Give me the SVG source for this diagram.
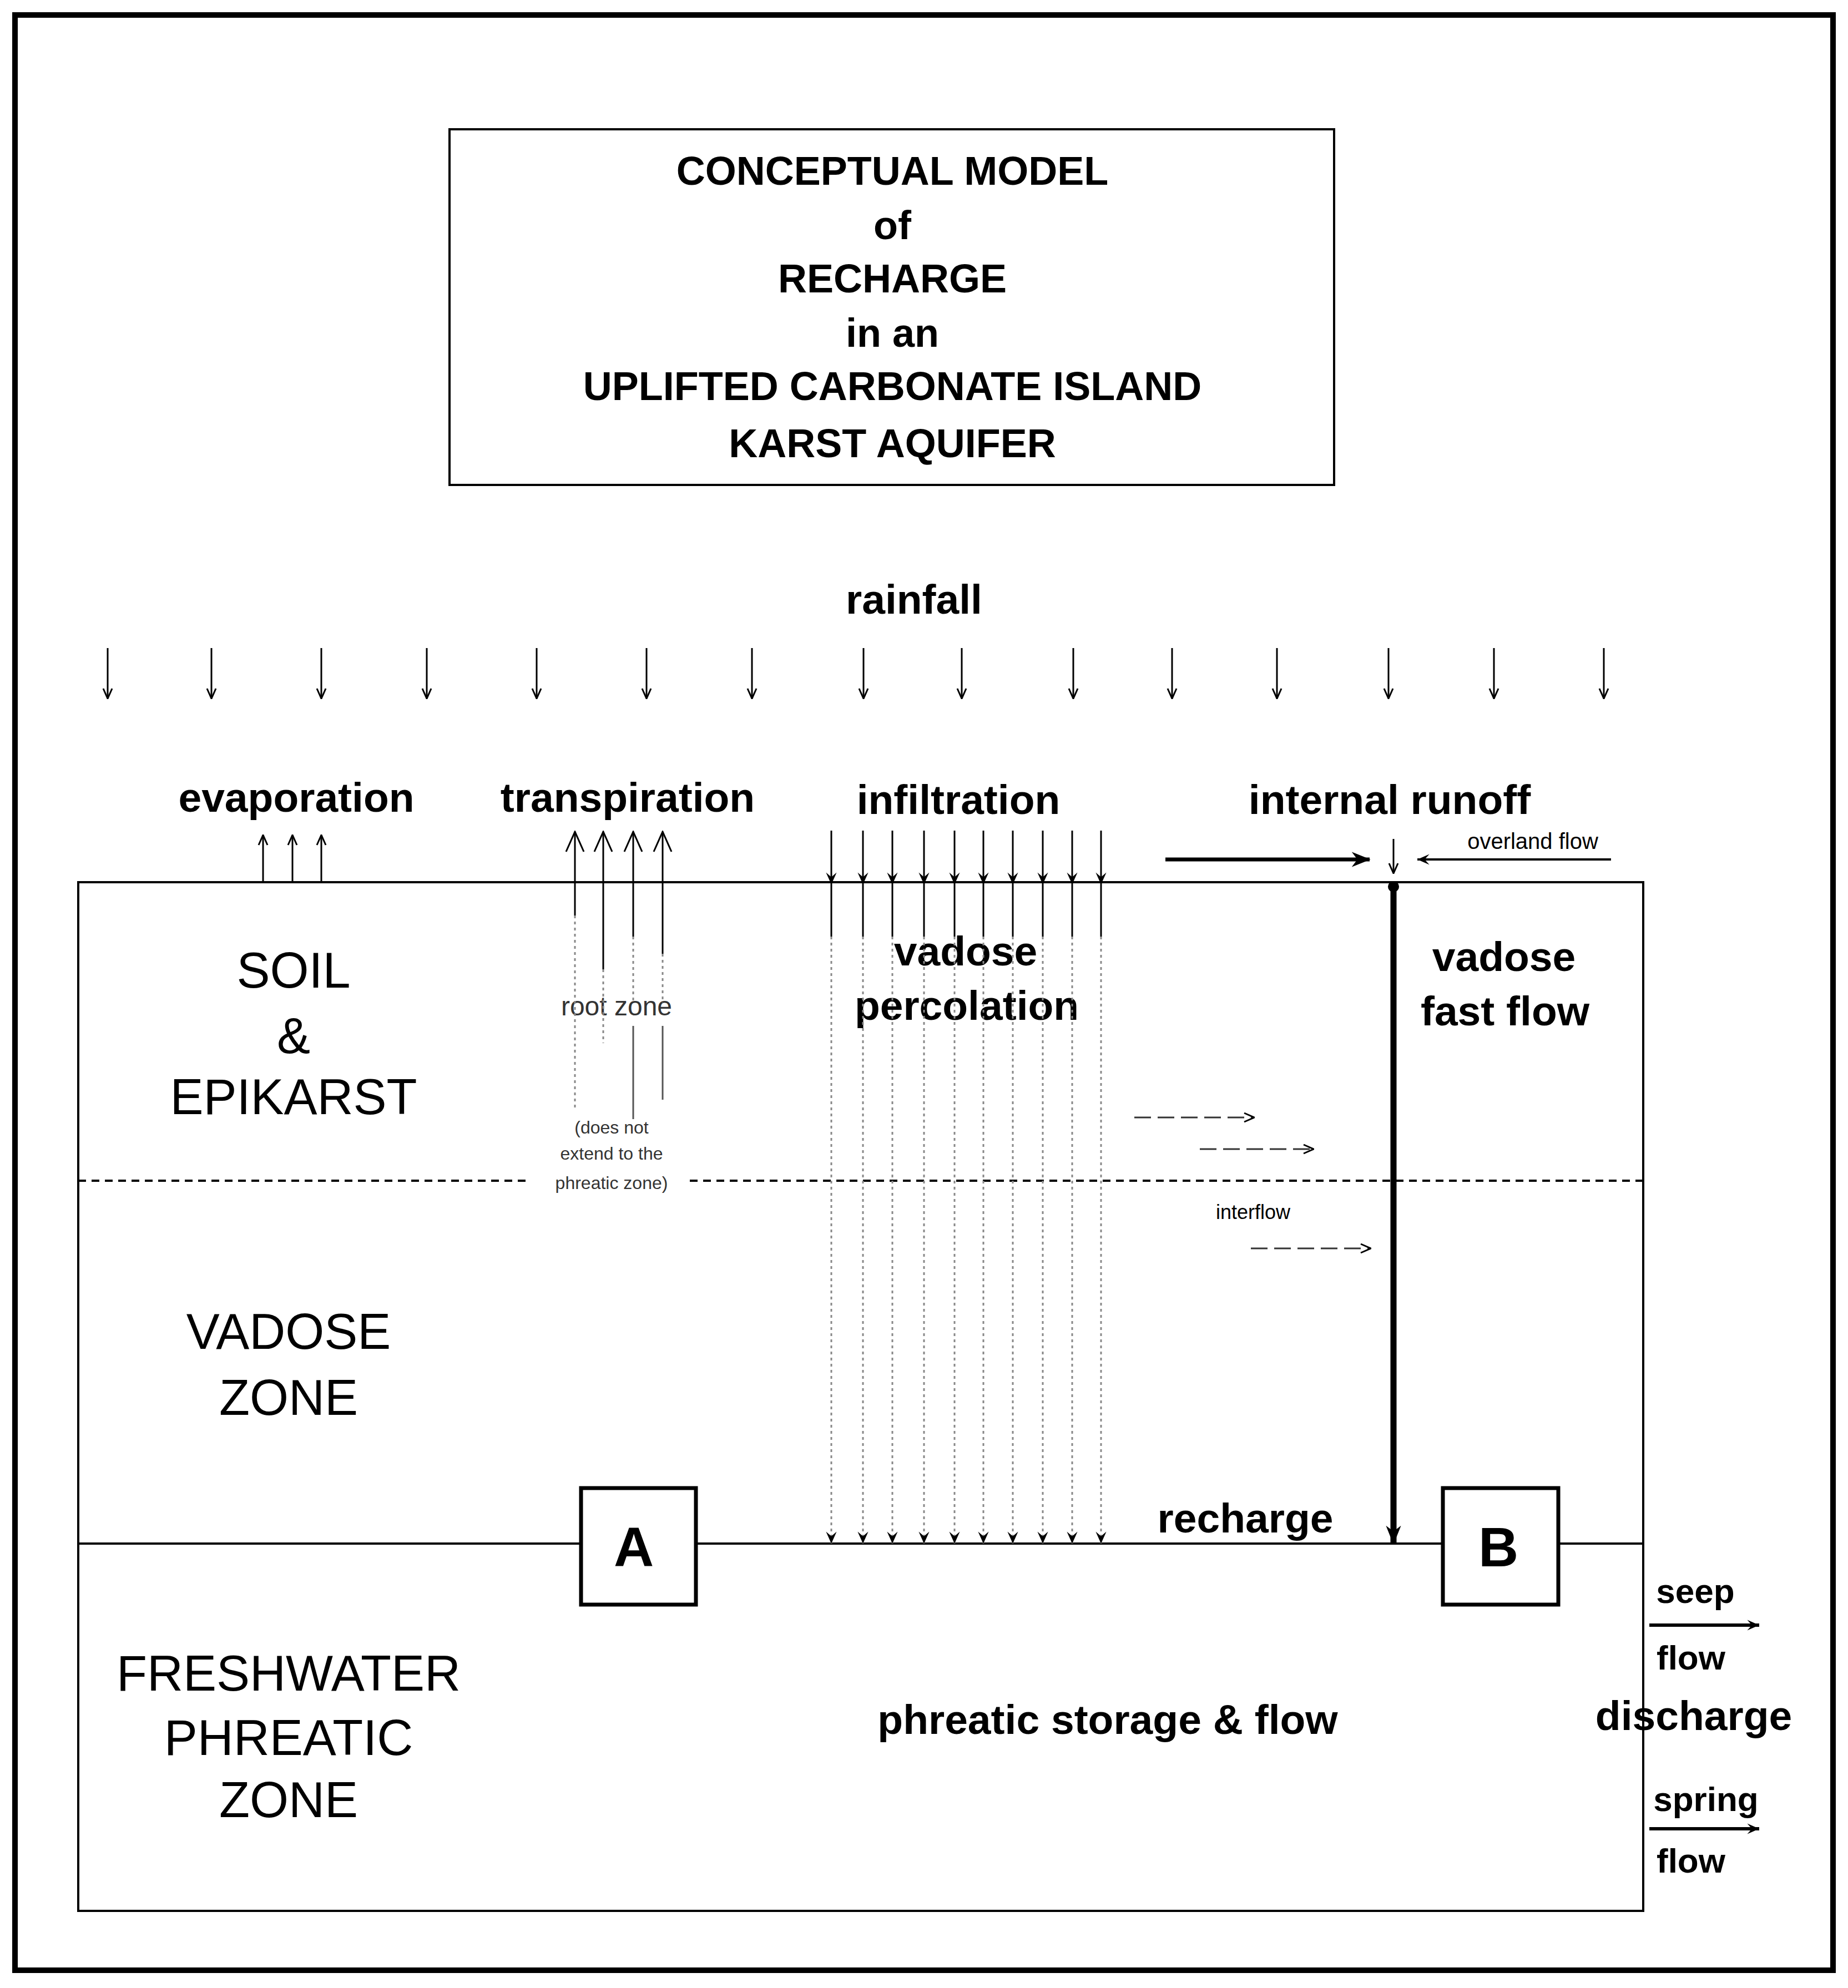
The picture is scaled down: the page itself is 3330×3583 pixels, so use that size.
<svg xmlns="http://www.w3.org/2000/svg" width="3330" height="3583" viewBox="0 0 3330 3583">
<style>
text{font-family:"Liberation Sans",Arial,sans-serif;fill:#000;text-anchor:middle}
.b{font-weight:bold}
.t{font-size:72px;font-weight:bold}
.z{font-size:90px}
.l{font-size:75px;font-weight:bold}
.s{font-size:48px;fill:#333}
.xs{font-size:32px;fill:#333}
.thin{stroke:#000;stroke-width:3;fill:none}
.dot{stroke:#888;stroke-width:3;stroke-dasharray:5 6;fill:none}
</style>
<defs>
<marker id="ah" viewBox="0 0 20 20" refX="19" refY="10" markerWidth="20" markerHeight="20" markerUnits="userSpaceOnUse" orient="auto"><path d="M1 2 L19 10 L1 18" fill="none" stroke="#000" stroke-width="3"/></marker>
<marker id="ahs" viewBox="0 0 20 20" refX="19" refY="10" markerWidth="24" markerHeight="24" markerUnits="userSpaceOnUse" orient="auto"><path d="M1 2 L19 10 L1 18 L8 10Z" fill="#000"/></marker>
<marker id="ahb" viewBox="0 0 20 20" refX="19" refY="10" markerWidth="34" markerHeight="34" markerUnits="userSpaceOnUse" orient="auto"><path d="M0 2 L20 10 L0 18 L6 10Z" fill="#000"/></marker>
<marker id="ahu" viewBox="0 0 20 20" refX="19" refY="10" markerWidth="40" markerHeight="40" markerUnits="userSpaceOnUse" orient="auto"><path d="M1 2 L19 10 L1 18" fill="none" stroke="#000" stroke-width="1.5"/></marker>
</defs>
<rect x="0" y="0" width="3330" height="3583" fill="#fff"/>
<rect x="27" y="27" width="3276" height="3524" fill="none" stroke="#000" stroke-width="10"/>
<g id="title">
<rect x="810" y="233" width="1594" height="641" fill="none" stroke="#000" stroke-width="4"/>
<text class="t" x="1608" y="333">CONCEPTUAL MODEL</text>
<text class="t" x="1608" y="431">of</text>
<text class="t" x="1608" y="527">RECHARGE</text>
<text class="t" x="1608" y="625">in an</text>
<text class="t" x="1608" y="721">UPLIFTED CARBONATE ISLAND</text>
<text class="t" x="1608" y="824">KARST AQUIFER</text>
</g>
<g id="zones">
<rect x="141" y="1590" width="2820" height="1854" fill="none" stroke="#000" stroke-width="4"/>
<path d="M141 2128 H957 M1243 2128 H2961" stroke="#000" stroke-width="4" stroke-dasharray="14 10"/>
<path d="M141 2782 H1047 M1254 2782 H2600 M2808 2782 H2961" stroke="#000" stroke-width="4"/>
<text class="z" x="529" y="1780">SOIL</text>
<text class="z" x="529" y="1898">&amp;</text>
<text class="z" x="529" y="2008">EPIKARST</text>
<text class="z" x="520" y="2431">VADOSE</text>
<text class="z" x="520" y="2550">ZONE</text>
<text class="z" x="520" y="3047">FRESHWATER</text>
<text class="z" x="520" y="3163">PHREATIC</text>
<text class="z" x="520" y="3275">ZONE</text>
</g>
<g id="boxA"><rect x="1047" y="2682" width="207" height="210" fill="#fff" stroke="#000" stroke-width="7"/><text class="b" x="1142" y="2823" font-size="100">A</text></g>
<g id="boxB"><rect x="2600" y="2682" width="208" height="210" fill="#fff" stroke="#000" stroke-width="7"/><text class="b" x="2700" y="2823" font-size="100">B</text></g>
<g id="labels">
<text class="l" x="1647" y="1106">rainfall</text>
<text class="l" x="534" y="1463">evaporation</text>
<text class="l" x="1131" y="1463">transpiration</text>
<text class="l" x="1727" y="1467">infiltration</text>
<text class="l" x="2504" y="1467">internal runoff</text>
<text font-size="40" x="2762" y="1530" fill="#333">overland flow</text>
<text class="s" x="1111" y="1830">root zone</text>
<text class="xs" x="1102" y="2043">(does not</text>
<text class="xs" x="1102" y="2090">extend to the</text>
<text class="xs" x="1102" y="2143">phreatic zone)</text>
<text class="l" x="1740" y="1740">vadose</text>
<text class="l" x="1742" y="1838">percolation</text>
<text class="l" x="2710" y="1750">vadose</text>
<text class="l" x="2712" y="1848">fast flow</text>
<text font-size="36" x="2258" y="2197" fill="#333">interflow</text>
<text class="l" x="2244" y="2762">recharge</text>
<text class="l" x="1996" y="3125">phreatic storage &amp; flow</text>
<text class="b" font-size="62" x="3055" y="2889">seep</text>
<text class="b" font-size="62" x="3047" y="3009">flow</text>
<text class="l" x="3052" y="3118">discharge</text>
<text class="b" font-size="62" x="3074" y="3264">spring</text>
<text class="b" font-size="62" x="3047" y="3375">flow</text>
</g>
<g id="connectors">
<g class="thin" marker-end="url(#ah)">
<path d="M194 1168 V1259"/><path d="M381 1168 V1259"/><path d="M579 1168 V1259"/><path d="M769 1168 V1259"/><path d="M967 1168 V1259"/><path d="M1165 1168 V1259"/><path d="M1355 1168 V1259"/><path d="M1556 1168 V1259"/><path d="M1733 1168 V1259"/><path d="M1934 1168 V1259"/><path d="M2112 1168 V1259"/><path d="M2301 1168 V1259"/><path d="M2502 1168 V1259"/><path d="M2692 1168 V1259"/><path d="M2890 1168 V1259"/>
<path d="M474 1590 V1505"/><path d="M527 1590 V1505"/><path d="M579 1590 V1505"/>
</g>
<g stroke="#000" stroke-width="3" fill="none" marker-end="url(#ahu)">
<path d="M1036 1650 V1499"/><path d="M1087 1747 V1499"/><path d="M1141 1688 V1499"/><path d="M1194 1719 V1499"/>
</g>
<g class="dot"><path d="M1036 1650 V2002"/><path d="M1087 1747 V1880"/><path d="M1141 1688 V1808"/><path d="M1194 1719 V1808"/></g>
<g stroke="#555" stroke-width="3"><path d="M1141 1849 V2017"/><path d="M1194 1849 V1982"/></g>
<g stroke="#000" stroke-width="3" marker-end="url(#ahs)">
<path d="M1498 1497 V1594"/><path d="M1555 1497 V1594"/><path d="M1608 1497 V1594"/><path d="M1665 1497 V1594"/><path d="M1720 1497 V1594"/><path d="M1772 1497 V1594"/><path d="M1825 1497 V1594"/><path d="M1879 1497 V1594"/><path d="M1932 1497 V1594"/><path d="M1984 1497 V1594"/>
</g>
<g stroke="#000" stroke-width="3"><path d="M1498 1594 V1688 M1555 1594 V1688 M1608 1594 V1688 M1665 1594 V1688 M1720 1594 V1688 M1772 1594 V1688 M1825 1594 V1688 M1879 1594 V1688 M1932 1594 V1688 M1984 1594 V1688"/></g>
<g class="dot" marker-end="url(#ahs)">
<path d="M1498 1688 V2782"/><path d="M1555 1688 V2782"/><path d="M1608 1688 V2782"/><path d="M1665 1688 V2782"/><path d="M1720 1688 V2782"/><path d="M1772 1688 V2782"/><path d="M1825 1688 V2782"/><path d="M1879 1688 V2782"/><path d="M1932 1688 V2782"/><path d="M1984 1688 V2782"/>
</g>
<path d="M2100 1549 H2468" stroke="#000" stroke-width="7" marker-end="url(#ahb)"/>
<path d="M2903 1549 H2554" stroke="#000" stroke-width="4" marker-end="url(#ahs)"/>
<path d="M2511 1512 V1574" class="thin" marker-end="url(#ah)"/>
<circle cx="2511" cy="1598" r="10" fill="#000"/>
<path d="M2511 1598 V2782" stroke="#000" stroke-width="11" marker-end="url(#ahb)"/>
<g stroke="#333" stroke-width="3" fill="none" stroke-dasharray="30 12" marker-end="url(#ah)">
<path d="M2044 2014 H2260"/><path d="M2162 2071 H2367"/><path d="M2254 2250 H2470"/>
</g>
<path d="M2972 2929 H3170" stroke="#000" stroke-width="6" marker-end="url(#ahs)"/>
<path d="M2972 3296 H3170" stroke="#000" stroke-width="6" marker-end="url(#ahs)"/>
</g>
</svg>
